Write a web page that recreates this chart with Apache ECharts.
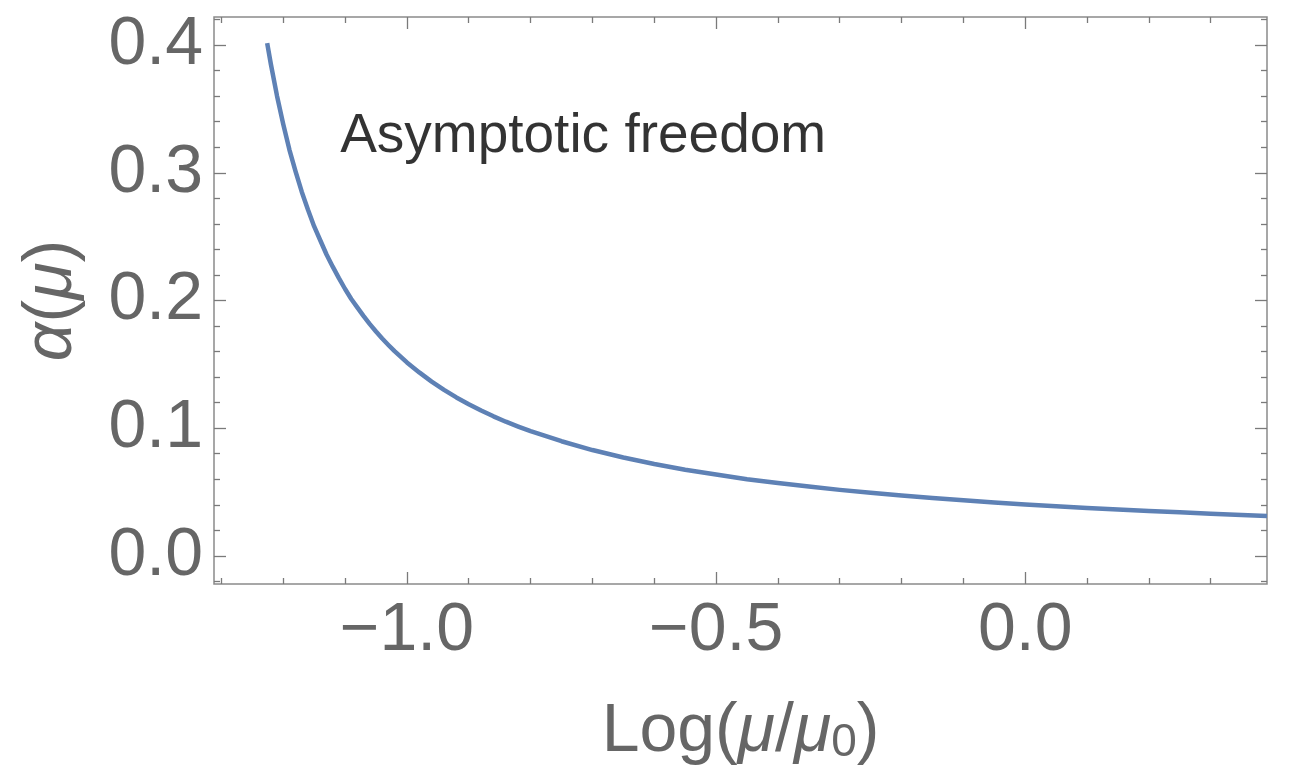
<!DOCTYPE html>
<html>
<head>
<meta charset="utf-8">
<script src="https://cdn.jsdelivr.net/npm/echarts@6/dist/echarts.min.js"></script>
<style>
html,body{margin:0;padding:0;background:#fff;}
#chart{width:1290px;height:773px;}
</style>
</head>
<body>
<div id="chart"></div>
<script>
// Data
const logMu = [-1.226, -1.22, -1.21, -1.20, -1.19, -1.18, -1.17, -1.16, -1.15, -1.14,
  -1.13, -1.12, -1.11, -1.10, -1.09, -1.08, -1.07, -1.06, -1.05, -1.04,
  -1.03, -1.02, -1.00, -0.98, -0.96, -0.94, -0.92, -0.90, -0.88, -0.86,
  -0.84, -0.82, -0.80, -0.75, -0.70, -0.65, -0.60, -0.55,
  -0.50, -0.45, -0.40, -0.35, -0.30, -0.25, -0.20, -0.15, -0.10, -0.05,
  0.00, 0.05, 0.10, 0.15, 0.20, 0.25, 0.30, 0.35, 0.391];
const alphaMu = [0.4015, 0.3850, 0.3600, 0.3380, 0.3180, 0.3010, 0.2850, 0.2710, 0.2580, 0.2470,
  0.2360, 0.2265, 0.2175, 0.2090, 0.2012, 0.1944, 0.1878, 0.1815, 0.1757, 0.1702,
  0.1652, 0.1604, 0.1515, 0.1437, 0.1365, 0.1300, 0.1241, 0.1188, 0.1138, 0.1093,
  0.1051, 0.1013, 0.0977, 0.0898, 0.0829, 0.0771, 0.0720, 0.0675,
  0.0637, 0.0601, 0.0571, 0.0543, 0.0517, 0.0494, 0.0473, 0.0453, 0.0435, 0.0419,
  0.0403, 0.0389, 0.0376, 0.0363, 0.0352, 0.0341, 0.0330, 0.0321, 0.0313];

const xMajorTicks = [-1.0, -0.5, 0.0];
const xMinorTicks = [-1.3, -1.2, -1.1, -0.9, -0.8, -0.7, -0.6, -0.4, -0.3, -0.2, -0.1, 0.1, 0.2, 0.3];
const yMajorTicks = [0.0, 0.1, 0.2, 0.3, 0.4];
const yMinorTicks = [-0.02, 0.02, 0.04, 0.06, 0.08, 0.12, 0.14, 0.16, 0.18, 0.22, 0.24, 0.26, 0.28, 0.32, 0.34, 0.36, 0.38, 0.42];

const annotText = ['Asymptotic freedom'];
const annotX = [-1.108];
const annotY = [0.328];

const xRange = [-1.312, 0.391];
const yRange = [-0.022, 0.422];

const FONT = '"Liberation Sans", Arial, Helvetica, sans-serif';
const GREY = '#666666';
const FRAME = '#8a8a8a';
const TICK = '#7a7a7a';

function fmt(v) {
  const s = Math.abs(v).toFixed(1);
  return v < -1e-9 ? '\u2212' + s : s;
}

function tickAxis(kind, pos, values, len, labels, extra) {
  const range = kind === 'x' ? xRange : yRange;
  const ax = {
    type: 'value',
    position: pos,
    min: range[0],
    max: range[1],
    axisLine: { show: false, onZero: false },
    splitLine: { show: false },
    axisTick: {
      show: true, inside: true, length: len, customValues: values,
      lineStyle: { color: TICK, width: 1.3 }
    },
    axisLabel: labels ? {
      show: true, customValues: values, formatter: fmt,
      fontFamily: FONT, fontSize: 68, color: GREY, margin: kind === 'x' ? 13 : 11
    } : { show: false }
  };
  return Object.assign(ax, extra || {});
}

const chart = echarts.init(document.getElementById('chart'), null, { renderer: 'canvas' });
chart.setOption({
  animation: false,
  backgroundColor: '#ffffff',
  grid: {
    left: 214, right: 23, top: 17, bottom: 189,
    containLabel: false,
    outerBoundsMode: 'none',
    show: true, borderColor: FRAME, borderWidth: 1.5, backgroundColor: 'transparent'
  },
  xAxis: [
    tickAxis('x', 'bottom', xMajorTicks, 12, true, {
      name: 'Log({i|\u03bc}/{i|\u03bc}{s|0})',
      nameLocation: 'middle',
      nameGap: 114,
      nameTextStyle: {
        fontFamily: FONT, fontSize: 68, color: GREY,
        rich: {
          i: { fontFamily: FONT, fontSize: 68, color: GREY, fontStyle: 'italic' },
          s: { fontFamily: FONT, fontSize: 46, color: GREY, verticalAlign: 'bottom', padding: [22, 0, 0, 0] }
        }
      }
    }),
    tickAxis('x', 'bottom', xMinorTicks, 6, false),
    tickAxis('x', 'top', xMajorTicks, 12, false),
    tickAxis('x', 'top', xMinorTicks, 6, false)
  ],
  yAxis: [
    tickAxis('y', 'left', yMajorTicks, 12, true, {
      name: '{i|\u03b1}({i|\u03bc})',
      nameLocation: 'middle',
      nameGap: 128,
      nameTextStyle: {
        fontFamily: FONT, fontSize: 68, color: GREY,
        rich: {
          i: { fontFamily: FONT, fontSize: 68, color: GREY, fontStyle: 'italic' }
        }
      }
    }),
    tickAxis('y', 'left', yMinorTicks, 6, false),
    tickAxis('y', 'right', yMajorTicks, 12, false),
    tickAxis('y', 'right', yMinorTicks, 6, false)
  ],
  series: [
    {
      type: 'line',
      xAxisIndex: 0, yAxisIndex: 0,
      data: logMu.map((x, i) => [x, alphaMu[i]]),
      showSymbol: false,
      smooth: false,
      clip: true,
      lineStyle: { color: '#5E81B5', width: 4.5, join: 'round', cap: 'butt' },
      itemStyle: { color: '#5E81B5' },
      silent: true
    },
    {
      type: 'scatter',
      xAxisIndex: 0, yAxisIndex: 0,
      data: annotX.map((x, i) => [x, annotY[i]]),
      symbolSize: 0,
      silent: true,
      label: {
        show: true, position: 'right', distance: 0,
        formatter: (p) => annotText[p.dataIndex],
        fontFamily: FONT, fontSize: 55, color: '#000000'
      }
    }
  ]
});
</script>
</body>
</html>
